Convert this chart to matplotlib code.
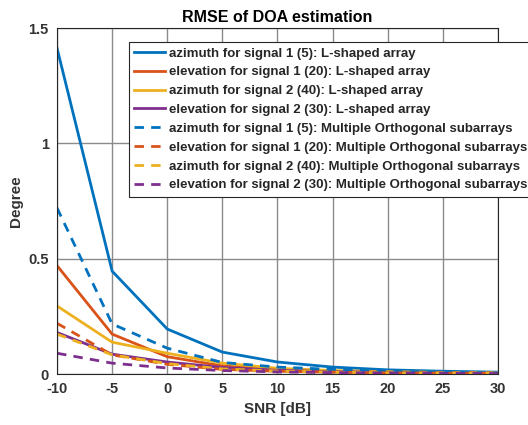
import matplotlib.pyplot as plt

snr = [-10, -5, 0, 5, 10, 15, 20, 25, 30]

# L-shaped array
az1_l = [1.413, 0.446, 0.195, 0.095, 0.052, 0.030, 0.018, 0.012, 0.008]
el1_l = [0.47, 0.173, 0.075, 0.035, 0.020, 0.012, 0.008, 0.005, 0.004]
az2_l = [0.295, 0.138, 0.090, 0.047, 0.025, 0.015, 0.010, 0.007, 0.005]
el2_l = [0.18, 0.086, 0.052, 0.028, 0.016, 0.010, 0.007, 0.005, 0.003]

# Multiple orthogonal subarrays
az1_m = [0.72, 0.217, 0.112, 0.050, 0.030, 0.020, 0.012, 0.008, 0.005]
el1_m = [0.22, 0.083, 0.042, 0.020, 0.012, 0.008, 0.005, 0.004, 0.003]
az2_m = [0.173, 0.083, 0.045, 0.022, 0.013, 0.008, 0.005, 0.004, 0.003]
el2_m = [0.09, 0.047, 0.026, 0.015, 0.009, 0.006, 0.004, 0.003, 0.002]

labels = [
    "azimuth for signal 1 (5): L-shaped array",
    "elevation for signal 1 (20): L-shaped array",
    "azimuth for signal 2 (40): L-shaped array",
    "elevation for signal 2 (30): L-shaped array",
    "azimuth for signal 1 (5): Multiple Orthogonal subarrays",
    "elevation for signal 1 (20): Multiple Orthogonal subarrays",
    "azimuth for signal 2 (40): Multiple Orthogonal subarrays",
    "elevation for signal 2 (30): Multiple Orthogonal subarrays",
]
colors = ["#0072BD", "#D95319", "#EDB120", "#7E2F8E"]

plt.rcParams["font.family"] = ["Liberation Sans", "DejaVu Sans"]
plt.rcParams["font.weight"] = "bold"
plt.rcParams["axes.unicode_minus"] = False

fig = plt.figure(figsize=(5.28, 4.25), dpi=100)
ax = fig.add_axes([0.108, 0.12, 0.835, 0.814])

series = [az1_l, el1_l, az2_l, el2_l, az1_m, el1_m, az2_m, el2_m]
for i, ys in enumerate(series):
    if i < 4:
        ax.plot(snr, ys, color=colors[i % 4], lw=2, label=labels[i])
    else:
        ax.plot(snr, ys, color=colors[i % 4], lw=2, dashes=(3.4, 2.6),
                label=labels[i])

ax.set_xlim(-10, 30)
ax.set_ylim(0, 1.5)
ax.set_xticks(snr)
ax.set_yticks([0, 0.5, 1, 1.5])
ax.set_yticklabels(["0", "0.5", "1", "1.5"])
ax.grid(True, color="#8a8a8a", lw=1)
ax.set_axisbelow(True)
ax.tick_params(direction="in", length=0, labelsize=10.5, colors="#333333", pad=6)
for s in ax.spines.values():
    s.set_color("#262626")
    s.set_linewidth(0.8)

ax.set_title("RMSE of DOA estimation", fontsize=11.5, fontweight="bold",
             color="black", pad=4)
ax.set_xlabel("SNR [dB]", fontsize=11, fontweight="bold", color="#333333")
ax.set_ylabel("Degree", fontsize=11, fontweight="bold", color="#333333")

leg = ax.legend(loc="upper left", bbox_to_anchor=(0.244, 0.901),
                bbox_transform=fig.transFigure, fontsize=9.5, frameon=True,
                fancybox=False, framealpha=1, edgecolor="#262626",
                handlelength=2.35, handletextpad=0.3, labelspacing=0.5,
                borderpad=0.4, borderaxespad=0)
leg.get_frame().set_linewidth(0.8)
for t in leg.get_texts():
    t.set_color("#262626")

fig.savefig("out.png", dpi=100)
